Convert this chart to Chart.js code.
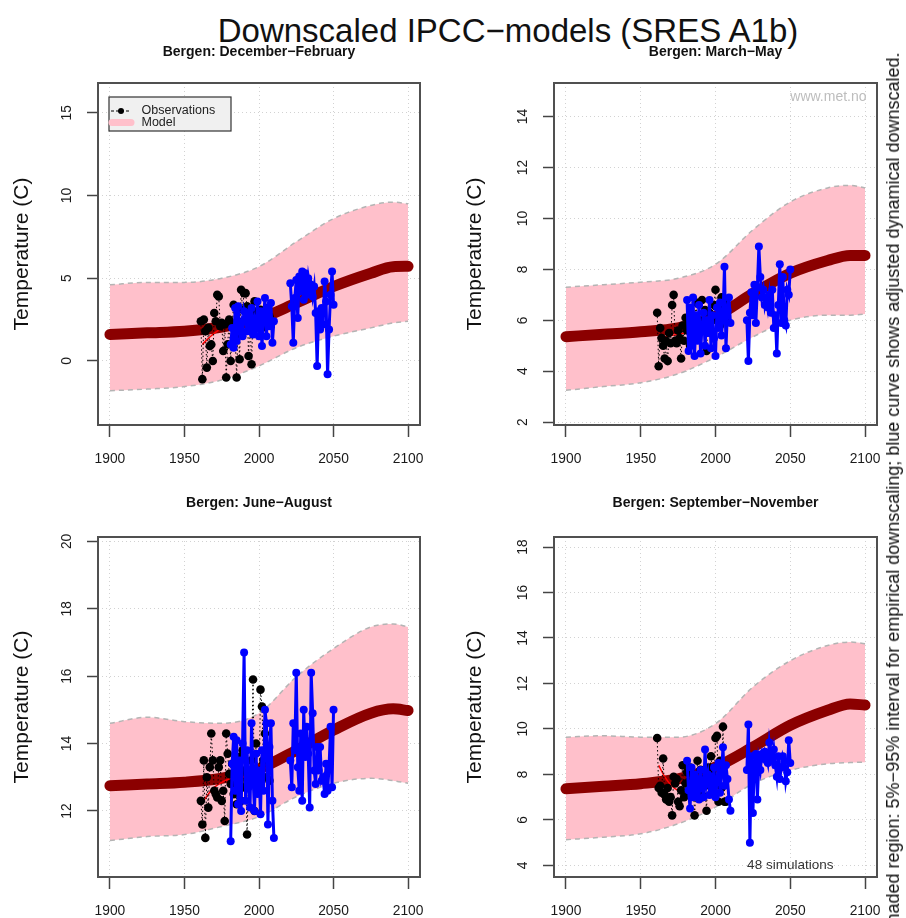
<!DOCTYPE html>
<html>
<head>
<meta charset="utf-8">
<script src="https://cdn.jsdelivr.net/npm/chart.js@4.4.1/dist/chart.umd.min.js"></script>
<style>
  html, body { margin: 0; padding: 0; background: #fff; }
  body { width: 906px; height: 918px; position: relative; overflow: hidden; font-family: 'Liberation Sans', Arial, sans-serif; }
  canvas { position: absolute; }
  #main-title { position: absolute; left: 508px; top: 14px; transform: translateX(-50%); font-size: 33px; line-height: 33px; white-space: nowrap; color: #111; }
  #side-note { position: absolute; left: 893px; top: 494px; transform: translate(-50%, -50%) rotate(-90deg); font-size: 18px; line-height: 18px; white-space: nowrap; color: #111; }
</style>
</head>
<body>
<div id="main-title">Downscaled IPCC−models (SRES A1b)</div>
<canvas id="djf" width="453" height="434" style="left:0;top:36px"></canvas>
<canvas id="mam" width="453" height="434" style="left:453px;top:36px"></canvas>
<canvas id="jja" width="453" height="430" style="left:0;top:488px"></canvas>
<canvas id="son" width="453" height="430" style="left:453px;top:488px"></canvas>
<div id="side-note">Shaded region: 5%−95% interval for empirical downscaling; blue curve shows adjusted dynamical downscaled.</div>
<script>
// x positions (years)
const years = (a, b) => { const out = []; for (let y = a; y <= b; y++) out.push(y); return out; };
const xTicks = [1900, 1950, 2000, 2050, 2100];
const xTickLabels = ['1900', '1950', '2000', '2050', '2100'];
const modelYears = [1900, 1925, 1950, 1975, 2000, 2025, 2050, 2075, 2090, 2100];
const obsYears = years(1961, 2007);
const dynYearsA = years(1981, 2010);
const dynYearsB = years(2021, 2050);

// December-February
const djfYTicks = [0, 5, 10, 15];
const djfMean = [1.6, 1.7, 1.8, 2.05, 2.55, 3.5, 4.5, 5.3, 5.7, 5.72];
const djfUpper = [4.6, 4.75, 4.75, 5.0, 5.7, 7.2, 8.6, 9.4, 9.6, 9.5];
const djfLower = [-1.8, -1.7, -1.55, -1.15, -0.3, 0.8, 1.5, 2.0, 2.3, 2.4];
const djfObs = [2.4, -1.1, 2.5, 1.8, -0.4, 2.0, 0.9, 1.0, 0.0, 2.9,
  2.4, 4.0, 3.9, 2.1, 2.3, 0.6, 2.2, -1.0, 1.0, 2.5,
  0.0, 2.2, 3.4, 1.5, -1.0, 2.3, 0.1, 4.3, 3.1, 4.1,
  4.1, 3.3, 0.3, 2.6, -0.2, 2.9, 3.6, 2.2, 3.0, 2.4,
  3.1, 2.0, 2.8, 3.0, 2.5, 3.2, 2.7];
const djfTrendYears = [1962, 1967, 1972, 1977, 1982];
const djfTrend = [1.0, 1.45, 1.8, 2.05, 2.2];
const djfDynA = [1.0, 2.0, 0.8, 3.2, 1.2, 3.3, 1.9, 2.3, 1.5, 3.0, 2.6, 1.8, 2.9, 2.0, 3.2,
  1.6, 2.5, 2.0, 3.6, 1.5, 3.0, 0.9, 2.6, 3.8, 1.5, 3.2, 2.1, 3.5, 1.1, 2.4];
const djfDynB = [4.7, 3.3, 1.1, 3.8, 4.9, 2.6, 5.1, 4.2, 5.4, 3.7, 5.3, 4.0, 5.0, 4.3, 4.6,
  3.9, 4.5, 2.9, -0.3, 3.0, 1.9, 3.2, 2.2, 4.8, 3.6, -0.8, 1.9, 4.0, 5.4, 3.4];

// March-May
const mamYTicks = [2, 4, 6, 8, 10, 12, 14];
const mamMean = [5.36, 5.45, 5.55, 5.7, 6.15, 7.05, 7.85, 8.35, 8.55, 8.55];
const mamUpper = [7.3, 7.4, 7.5, 7.65, 8.2, 9.55, 10.65, 11.2, 11.3, 11.2];
const mamLower = [3.25, 3.4, 3.55, 3.9, 4.55, 5.35, 6.0, 6.2, 6.2, 6.25];
const mamObs = [6.3, 4.2, 5.7, 5.3, 5.0, 4.5, 5.2, 4.4, 5.5, 5.1,
  6.6, 7.0, 5.2, 5.1, 5.6, 5.3, 4.5, 5.8, 5.2, 6.1,
  5.6, 5.9, 5.0, 6.2, 5.4, 6.0, 6.7, 5.3, 6.0, 5.6,
  6.8, 5.7, 6.4, 4.8, 5.9, 6.3, 5.5, 6.1, 6.6, 7.2,
  6.0, 6.5, 5.8, 6.9, 6.3, 6.7, 6.1];
const mamTrendYears = [1962, 1970, 1980];
const mamTrend = [5.3, 5.4, 5.5];
const mamDynA = [6.8, 4.8, 6.5, 5.0, 6.9, 4.6, 6.2, 5.2, 6.6, 4.7, 5.8, 6.3, 5.0, 6.0, 5.5,
  6.8, 4.9, 6.2, 5.3, 4.6, 6.5, 5.7, 6.7, 5.4, 6.1, 8.1, 4.9, 6.4, 6.9, 5.9];
const mamDynB = [6.0, 4.4, 6.3, 7.1, 6.2, 7.4, 5.9, 7.3, 8.9, 7.7, 6.9, 7.2, 6.6, 6.9, 6.5,
  7.0, 6.3, 7.2, 5.7, 6.2, 4.7, 6.6, 8.2, 5.9, 7.7, 6.0, 5.8, 7.2, 7.0, 8.0];

// June-August
const jjaYTicks = [12, 14, 16, 18, 20];
const jjaMean = [12.75, 12.8, 12.85, 12.97, 13.25, 13.8, 14.4, 14.9, 15.03, 14.98];
const jjaUpper = [14.6, 14.78, 14.65, 14.6, 14.9, 15.98, 16.82, 17.46, 17.55, 17.46];
const jjaLower = [11.12, 11.24, 11.3, 11.54, 11.83, 12.42, 12.82, 12.97, 12.9, 12.82];
const jjaObs = [12.3, 11.6, 13.5, 11.2, 13.0, 12.1, 13.3, 14.3, 13.5, 12.6,
  12.5, 12.4, 13.3, 13.5, 12.3, 12.6, 11.7, 14.3, 13.7, 13.1,
  12.8, 13.4, 12.5, 13.0, 12.2, 13.6, 12.9, 12.3, 13.8, 12.7,
  13.2, 11.3, 13.0, 12.8, 13.5, 15.9, 12.0, 14.0, 13.1, 12.6,
  15.6, 15.1, 13.5, 14.3, 13.0, 13.7, 12.9];
const jjaTrendYears = [1962, 1966, 1970, 1975, 1980];
const jjaTrend = [12.25, 12.5, 12.7, 12.85, 12.95];
const jjaDynA = [11.1, 13.4, 14.2, 12.6, 14.1, 12.2, 13.5, 12.0, 14.0, 16.7, 12.3, 13.8, 12.7, 12.1, 14.6,
  13.0, 12.0, 13.7, 12.5, 13.2, 11.9, 13.8, 12.6, 15.0, 14.6, 11.6, 13.9, 14.6, 12.3, 11.2];
const jjaDynB = [13.5, 12.7, 14.6, 13.8, 16.1, 13.3, 12.6, 14.3, 12.3, 15.0, 13.6, 14.5, 13.7, 12.1, 16.1,
  14.9, 13.2, 12.8, 13.9, 13.2, 13.9, 12.9, 13.0, 12.5, 13.4, 12.6, 13.3, 14.5, 12.7, 15.0];

// September-November
const sonYTicks = [4, 6, 8, 10, 12, 14, 16, 18];
const sonMean = [7.37, 7.48, 7.59, 7.8, 8.32, 9.2, 10.16, 10.82, 11.1, 11.05];
const sonUpper = [9.64, 9.7, 9.64, 9.64, 10.23, 11.84, 13.0, 13.67, 13.82, 13.75];
const sonLower = [5.13, 5.24, 5.39, 5.83, 6.56, 7.59, 8.18, 8.47, 8.52, 8.54];
const sonObs = [9.6, 7.4, 7.5, 7.2, 8.7, 7.1, 6.9, 7.4, 6.8, 7.0,
  6.2, 7.9, 7.6, 7.8, 6.8, 6.6, 7.3, 8.4, 7.0, 7.6,
  8.1, 7.2, 8.3, 7.7, 8.0, 6.2, 7.4, 8.6, 7.1, 8.2,
  7.0, 7.8, 7.5, 6.4, 8.3, 7.8, 8.8, 8.0, 7.2, 9.6,
  9.7, 6.8, 8.6, 7.4, 10.1, 6.8, 6.8];
const sonTrendYears = [1962, 1966, 1970, 1975, 1980];
const sonTrend = [8.4, 7.9, 7.55, 7.3, 7.25];
const sonDynA = [8.6, 7.3, 6.5, 8.3, 7.0, 8.0, 7.2, 7.8, 6.9, 8.2, 7.4, 7.0, 9.1, 7.6, 8.0,
  7.1, 7.9, 7.3, 8.3, 7.0, 7.7, 8.5, 7.2, 8.0, 9.2, 7.5, 8.4, 7.8, 6.9, 6.4];
const sonDynB = [8.2, 10.2, 5.0, 8.8, 6.3, 8.5, 8.9, 6.9, 8.6, 8.2, 8.9, 8.7, 9.0, 8.8, 8.5,
  9.4, 8.9, 8.6, 9.1, 8.4, 7.9, 8.8, 7.8, 8.3, 8.8, 8.6, 7.7, 8.1, 9.5, 8.5];

Chart.defaults.font.family = "'Liberation Sans', Arial, Helvetica, sans-serif";

const pts = (xs, ys) => xs.map((x, i) => ({ x, y: ys[i] }));

// box around the plot region, like R's bty="o"
const framePlugin = {
  id: 'frame',
  afterDatasetsDraw(chart) {
    const { ctx, chartArea: a } = chart;
    ctx.save();
    ctx.strokeStyle = '#505050';
    ctx.lineWidth = 2;
    ctx.strokeRect(a.left, a.top, a.right - a.left, a.bottom - a.top);
    ctx.restore();
  },
};

// free text placed at data coordinates (watermark, simulation count)
const notesPlugin = {
  id: 'notes',
  afterDatasetsDraw(chart, args, opts) {
    const { ctx, scales } = chart;
    (opts.items || []).forEach((n) => {
      ctx.save();
      ctx.font = n.size + "px 'Liberation Sans', Arial, sans-serif";
      ctx.fillStyle = n.color;
      ctx.textAlign = n.align;
      ctx.textBaseline = 'middle';
      const y = n.dy !== undefined ? chart.chartArea.top + n.dy : scales.y.getPixelForValue(n.y);
      ctx.fillText(n.text, scales.x.getPixelForValue(n.x), y);
      ctx.restore();
    });
  },
};

// boxed legend in the top-left corner of the first panel
const boxLegendPlugin = {
  id: 'boxLegend',
  afterDatasetsDraw(chart, args, opts) {
    if (!opts.show) return;
    const { ctx, chartArea: a } = chart;
    const ds = chart.data.datasets;
    const obs = ds.find((d) => d.label === 'Observations');
    const model = ds.find((d) => d.label === 'Model');
    const x0 = a.left + 11, y0 = a.top + 14;
    ctx.save();
    ctx.fillStyle = '#f0f0f0';
    ctx.fillRect(x0, y0, 122, 34);
    ctx.strokeStyle = '#333';
    ctx.lineWidth = 1.2;
    ctx.strokeRect(x0, y0, 122, 34);
    // observations symbol
    const r1 = y0 + 14;
    ctx.strokeStyle = obs.borderColor;
    ctx.lineWidth = 1.2;
    ctx.setLineDash([3, 2]);
    ctx.beginPath(); ctx.moveTo(x0 + 2, r1); ctx.lineTo(x0 + 22, r1); ctx.stroke();
    ctx.setLineDash([]);
    ctx.fillStyle = obs.pointBackgroundColor;
    ctx.beginPath(); ctx.arc(x0 + 12, r1, 3, 0, Math.PI * 2); ctx.fill();
    // model symbol
    const r2 = y0 + 25.5;
    ctx.strokeStyle = model.backgroundColor;
    ctx.lineWidth = 7;
    ctx.lineCap = 'round';
    ctx.beginPath(); ctx.moveTo(x0 + 3, r2); ctx.lineTo(x0 + 22, r2); ctx.stroke();
    ctx.fillStyle = '#222';
    ctx.font = "12.5px 'Liberation Sans', Arial, sans-serif";
    ctx.textBaseline = 'middle';
    ctx.fillText(obs.label, x0 + 32.5, r1);
    ctx.fillText(model.label, x0 + 32.5, r2);
    ctx.restore();
  },
};

const panels = [
  { id: 'djf', title: 'Bergen: December−February', ymin: -3.87, ymax: 16.8, yTicks: djfYTicks,
    mean: djfMean, upper: djfUpper, lower: djfLower, obs: djfObs, trendYears: djfTrendYears, trend: djfTrend,
    dynA: djfDynA, dynB: djfDynB, left: 98, right: 420, top: 47, bottom: 389, sub: 16, height: 434,
    legend: true, notes: [] },
  { id: 'mam', title: 'Bergen: March−May', ymin: 1.89, ymax: 15.32, yTicks: mamYTicks,
    mean: mamMean, upper: mamUpper, lower: mamLower, obs: mamObs, trendYears: mamTrendYears, trend: mamTrend,
    dynA: mamDynA, dynB: mamDynB, left: 101, right: 424, top: 47, bottom: 389, sub: 16, height: 434,
    legend: false, notes: [{ text: 'www.met.no', x: 2101, dy: 14, align: 'right', color: '#bdbdbd', size: 14 }] },
  { id: 'jja', title: 'Bergen: June−August', ymin: 10.04, ymax: 20.13, yTicks: jjaYTicks,
    mean: jjaMean, upper: jjaUpper, lower: jjaLower, obs: jjaObs, trendYears: jjaTrendYears, trend: jjaTrend,
    dynA: jjaDynA, dynB: jjaDynB, left: 98, right: 420, top: 49, bottom: 389, sub: 15, height: 430,
    legend: false, notes: [] },
  { id: 'son', title: 'Bergen: September−November', ymin: 3.49, ymax: 18.44, yTicks: sonYTicks,
    mean: sonMean, upper: sonUpper, lower: sonLower, obs: sonObs, trendYears: sonTrendYears, trend: sonTrend,
    dynA: sonDynA, dynB: sonDynB, left: 101, right: 424, top: 49, bottom: 389, sub: 15, height: 430,
    legend: false, notes: [{ text: '48 simulations', x: 2050, y: 4, align: 'center', color: '#333', size: 13.5 }] },
];

const X_AXIS_HEIGHT = 40;
const TITLE_LINE = 14 * 1.2;

panels.forEach((p) => {
  const bandEdge = {
    borderColor: '#b4b4b4', borderWidth: 1.5, borderDash: [5, 4],
    pointRadius: 0, cubicInterpolationMode: 'monotone',
  };
  const datasets = [
    { ...bandEdge, label: 'Lower', data: pts(modelYears, p.lower), fill: false, order: 4 },
    { ...bandEdge, label: 'Model', data: pts(modelYears, p.upper), fill: '-1', backgroundColor: '#ffc0cb', order: 5 },
    { label: 'Model mean', data: pts(modelYears, p.mean), borderColor: '#8b0000', borderWidth: 11,
      borderCapStyle: 'round', pointRadius: 0, cubicInterpolationMode: 'monotone', fill: false, order: 3 },
    { label: 'Trend', data: pts(p.trendYears, p.trend), borderColor: '#ff0000', borderWidth: 1.5,
      pointRadius: 0, cubicInterpolationMode: 'monotone', fill: false, order: 2 },
    { label: 'Observations', data: pts(obsYears, p.obs), borderColor: '#000000', borderWidth: 1,
      borderDash: [1.5, 2.5], pointRadius: 4.3, pointBackgroundColor: '#000000', pointBorderWidth: 0,
      fill: false, order: 1 },
    { label: 'Dynamical downscaling', data: [...pts(dynYearsA, p.dynA), { x: 2015, y: null }, ...pts(dynYearsB, p.dynB)],
      borderColor: '#0000ff', borderWidth: 3, pointRadius: 4, pointBackgroundColor: '#0000ff',
      pointBorderWidth: 0, spanGaps: false, fill: false, order: 0 },
  ];

  const gridStyle = { color: '#d2d2d2', lineWidth: 1, tickColor: '#444', tickWidth: 1.5 };

  new Chart(document.getElementById(p.id), {
    type: 'line',
    data: { datasets },
    options: {
      responsive: false,
      animation: false,
      devicePixelRatio: 1,
      events: [],
      layout: { padding: { left: 0, top: 0, right: 453 - p.right, bottom: p.height - p.bottom - X_AXIS_HEIGHT } },
      plugins: {
        legend: { display: false },
        tooltip: { enabled: false },
        title: {
          display: true, text: p.title, fullSize: false, color: '#111',
          font: { size: 14, weight: 'bold' },
          padding: { top: p.sub - TITLE_LINE / 2, bottom: p.top - p.sub - TITLE_LINE / 2 },
        },
        boxLegend: { show: p.legend },
        notes: { items: p.notes },
      },
      scales: {
        x: {
          type: 'linear', min: 1892, max: 2108, bounds: 'data',
          afterBuildTicks: (axis) => { axis.ticks = xTicks.map((v) => ({ value: v })); },
          afterFit: (axis) => { axis.height = X_AXIS_HEIGHT; },
          grid: { ...gridStyle, tickLength: 12 },
          border: { display: false, dash: [1, 3] },
          ticks: { autoSkip: false, minRotation: 0, maxRotation: 0, padding: 14, color: '#1a1a1a',
            font: { size: 13.8 }, callback: (v, i) => xTickLabels[i] },
        },
        y: {
          type: 'linear', min: p.ymin, max: p.ymax, bounds: 'data',
          afterBuildTicks: (axis) => { axis.ticks = p.yTicks.map((v) => ({ value: v })); },
          afterFit: (axis) => { axis.width = p.left; },
          grid: { ...gridStyle, tickLength: 11 },
          border: { display: false, dash: [1, 3] },
          ticks: { autoSkip: false, minRotation: 90, maxRotation: 90, crossAlign: 'center', padding: 12,
            color: '#1a1a1a', font: { size: 13.8 }, callback: (v, i) => String(p.yTicks[i]) },
          title: { display: true, text: 'Temperature (C)', color: '#111', font: { size: 21 },
            padding: { top: 10, bottom: 0 } },
        },
      },
    },
    plugins: [framePlugin, notesPlugin, boxLegendPlugin],
  });
});
</script>
</body>
</html>
